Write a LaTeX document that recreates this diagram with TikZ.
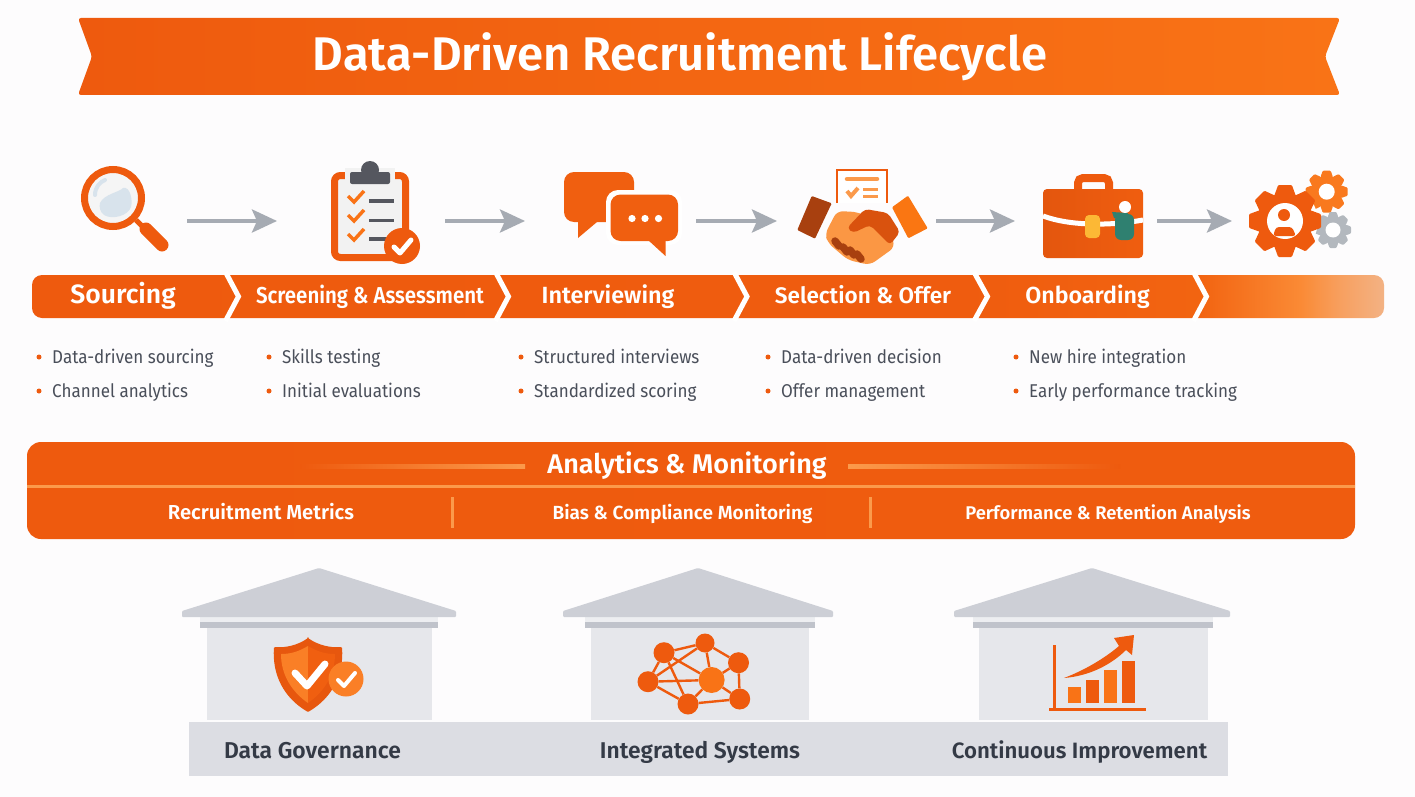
\documentclass[tikz,border=0pt]{standalone}
\usepackage{fontspec}
\setmainfont{Fira Sans}[BoldFont={Fira Sans SemiBold}]
\newfontfamily\itemfont{Fira Sans}[FakeStretch=0.92]
\newfontfamily\condbold{Fira Sans SemiBold}[FakeStretch=0.89]
\usetikzlibrary{arrows.meta}
\definecolor{primary}{HTML}{EE5A0E}
\definecolor{bright}{HTML}{F97316}
\definecolor{soft}{HTML}{FB9A4B}
\definecolor{deep}{HTML}{A8400F}
\definecolor{ink}{HTML}{343A46}
\definecolor{bodytext}{HTML}{4A4F5A}
\definecolor{clipgray}{HTML}{55575F}
\definecolor{lens}{HTML}{D8E3EC}
\definecolor{arrowgray}{HTML}{A6ABB3}
\definecolor{stone}{HTML}{E6E7EB}
\definecolor{stonedark}{HTML}{C0C3CB}
\definecolor{roofgray}{HTML}{CDCFD6}
\definecolor{basegray}{HTML}{DCDDE3}
\definecolor{pagebg}{HTML}{FDFCFD}
\definecolor{teal}{HTML}{2F8070}
\definecolor{fadea}{HTML}{FA8A35}
\definecolor{fadeb}{HTML}{F7A060}
\definecolor{fadec}{HTML}{F3B284}
\newcommand{\fs}[1]{\fontsize{#1}{#1}\selectfont}
% fade at the right end of the chevron band
\pgfdeclarehorizontalshading{bandfade}{100bp}{color(0bp)=(primary); color(25bp)=(primary); color(60bp)=(primary!90!bright); color(68.2bp)=(primary!60!bright); color(71.9bp)=(fadea); color(73.4bp)=(fadeb); color(75bp)=(fadec); color(100bp)=(fadec)}
\pgfdeclarehorizontalshading{ruleleft}{100bp}{color(0bp)=(primary); color(25bp)=(primary); color(75bp)=(soft); color(100bp)=(soft)}
\pgfdeclarehorizontalshading{ruleright}{100bp}{color(0bp)=(soft); color(25bp)=(soft); color(75bp)=(primary); color(100bp)=(primary)}
\newcommand{\gearicon}[5]{% x, y, outer, root, colour
  \foreach \a in {0,45,...,315} {
    \fill[#5, shift={(#1,#2)}, rotate=\a, rounded corners=1pt]
      (-#3*0.30,-#4*0.9) -- (-#3*0.19,-#3) -- (#3*0.19,-#3) -- (#3*0.30,-#4*0.9) -- cycle;
  }
  \fill[#5] (#1,#2) circle[radius=#4];
}
\begin{document}
\begin{tikzpicture}[
    x=1pt, y=-1pt,
    flowarrow/.style={draw=arrowgray, line width=4pt, -{Stealth[length=25pt,width=23pt,inset=5pt]}},
    iconslot/.style={inner sep=0pt, outer sep=0pt, minimum height=10pt},
    bandlabel/.style={text=white, inner sep=0pt, anchor=base},
    panellabel/.style={text=white, inner sep=0pt, anchor=base},
    pillarlabel/.style={text=ink, inner sep=0pt, anchor=base},
    chevron/.style={draw=white, line width=5pt, line join=miter},
    itemdot/.style={circle, fill=primary, inner sep=0pt, minimum size=5pt},
    itemtext/.style={text=bodytext, font=\itemfont\fs{18.5}, anchor=base west, inner sep=0pt},
    netnode/.style={circle, fill=primary, inner sep=0pt, minimum size=21pt},
    netlink/.style={draw=primary, line width=2.4pt},
    checkmark/.style={draw=white, line cap=round, line join=round},
]
\useasboundingbox (0,0) rectangle (1415,797);
\fill[pagebg] (0,0) rectangle (1415,797);

% Title banner
\shade[left color=primary, right color=bright, rounded corners=3pt]
  (78,18) -- (1340,18) -- (1325,56.5) -- (1340,95) -- (78,95) -- (92,56.5) -- cycle;
\node[text=white, font=\bfseries\fs{47.2}, inner sep=0pt, anchor=base] (title) at (680,70.5) {Data-Driven Recruitment Lifecycle};

% Icon slots and arrows
\node[iconslot, minimum width=124pt] (slotsource) at (125,221) {};
\node[iconslot, minimum width=168pt] (slotscreen) at (361,221) {};
\node[iconslot, minimum width=171pt] (slotinterview) at (610.5,221) {};
\node[iconslot, minimum width=159pt] (slotselect) at (856.5,221) {};
\node[iconslot, minimum width=142pt] (slotboard) at (1086,221) {};
\node[iconslot, minimum width=138pt] (slotgears) at (1301,221) {};
\draw[flowarrow] (slotsource) -- (slotscreen);
\draw[flowarrow] (slotscreen) -- (slotinterview);
\draw[flowarrow] (slotinterview) -- (slotselect);
\draw[flowarrow] (slotselect) -- (slotboard);
\draw[flowarrow] (slotboard) -- (slotgears);

% Magnifier
\draw[primary, line width=5pt] (136,220) -- (147,231);
\draw[primary, line width=13pt, line cap=round] (146,229) -- (162,245);
\draw[primary, line width=7pt, fill=white!96!black] (113,198) circle[radius=28.5];
\fill[lens] (100,203) .. controls (104,194) and (120,192) .. (123,188) .. controls (130,186) and (133,200) .. (131,207) .. controls (128,216) and (112,220) .. (104,215) .. controls (100,212) and (99,207) .. (100,203) -- cycle;
\draw[lens, line width=4pt, line cap=round] (95,195) .. controls (95,187) and (100,182) .. (105,180);

% Clipboard
\draw[primary, line width=7pt, fill=white!95!black, rounded corners=6pt] (334.5,175.5) rectangle (405.5,257.5);
\fill[white!95!black] (345,168) rectangle (395,180);
\fill[clipgray, rounded corners=2pt] (350,172) rectangle (390,184);
\fill[clipgray] (370,170) circle[radius=9];
\foreach \y in {200,219,238} {
  \draw[bright, line width=3.5pt] (348,\y-4) -- (354,\y+2) -- (364,\y-9);
}
\foreach \y in {201,220.5,239} {
  \draw[clipgray, line width=3.5pt] (369,\y) -- (394,\y);
}
\fill[primary] (402,246) circle[radius=18];
\draw[checkmark, line width=5pt] (394,247) -- (400,253) -- (411,240);

% Chat bubbles
\fill[primary!80!bright, rounded corners=10pt] (564,172) rectangle (634,222);
\fill[primary!80!bright] (578,215) -- (578,238) -- (597,222) -- cycle;
\fill[white, rounded corners=12pt] (606,190) rectangle (682,245);
\fill[primary!80!bright, rounded corners=10pt] (610.5,194.5) rectangle (678,241);
\fill[primary!80!bright] (648,240) -- (665.5,256) -- (665.5,236) -- cycle;
\foreach \x in {632,645,658.5} {
  \fill[white] (\x,218.5) circle[radius=3.6];
}

% Handshake and offer
\draw[primary, line width=1.5pt, fill=white] (837,203) -- (837,170) -- (887,170) -- (887,203);
\draw[soft, line width=4.5pt, line cap=round] (847,179) -- (877,179);
\draw[soft, line width=2.5pt] (863,189.5) -- (878,189.5) (863,196.5) -- (878,196.5);
\draw[soft, line width=4pt] (847,191) -- (851,196) -- (858,188);
\fill[deep, rounded corners=1pt] (811.7,196) -- (831.7,203.3) -- (815,238.7) -- (797.3,230) -- cycle;
\fill[bright!80!orange, rounded corners=1pt] (908,195.7) -- (927.7,228.3) -- (908.3,238.3) -- (892,207.3) -- cycle;
\fill[soft!90!orange, rounded corners=6pt] (837,211) -- (857,212) -- (888,225) -- (895,247) -- (870,265) -- (848,260) -- (828,243) -- (825,234) -- cycle;
\fill[primary!70!deep, rounded corners=4pt] (847,228) -- (865,209) -- (888,213) -- (900,232) -- (890,245) -- (870,225) -- (853,233) -- cycle;
\foreach \x/\y in {835/241,843/247,850/250,857/254} {
  \draw[deep, line width=7.5pt, line cap=round] (\x,\y) -- (\x+4,\y+5);
}

% Briefcase
\draw[primary, line width=8pt, rounded corners=5pt] (1078,190) -- (1078,178) -- (1109,178) -- (1109,190);
\shade[left color=primary!85!deep, right color=primary!85!bright, rounded corners=4pt] (1043,189) rectangle (1143,258);
\draw[white, line width=5pt] (1043,216) .. controls (1070,226) and (1110,226) .. (1143,220);
\fill[soft!70!yellow, rounded corners=4pt] (1085,215) rectangle (1100,238);
\fill[teal, rounded corners=6pt] (1115,214) rectangle (1134,240);
\fill[teal] (1112,212) -- (1128,213) -- (1126,219) -- (1114,218) -- cycle;
\fill[white] (1125,207) circle[radius=6];

% Gears
\gearicon{1326.7}{191.7}{21}{16}{bright!85!soft}
\fill[white] (1326.7,191.7) circle[radius=8];
\gearicon{1333}{230}{18}{14}{arrowgray!85!white}
\fill[white] (1333,230) circle[radius=7.5];
\fill[white] (1285,221) circle[radius=33];
\gearicon{1285}{221}{36}{28}{primary}
\fill[white] (1285,221) circle[radius=18];
\fill[primary] (1284,215) circle[radius=6];
\fill[primary, rounded corners=3pt] (1273,236) -- (1276,227) -- (1292,227) -- (1296,236) -- cycle;

% Chevron band
\shade[shading=bandfade, rounded corners=10pt] (32,275) rectangle (1384,318);
\draw[chevron] (225.5,272) -- (238.5,296.5) -- (225.5,321);
\draw[chevron] (495.5,272) -- (508.5,296.5) -- (495.5,321);
\draw[chevron] (734,272) -- (747,296.5) -- (734,321);
\draw[chevron] (974,272) -- (987.5,296.5) -- (974,321);
\draw[chevron] (1193.5,272) -- (1206.5,296.5) -- (1193.5,321);
\node[bandlabel, font=\bfseries\fs{26.5}] (sourcing) at (123,303.5) {Sourcing};
\node[bandlabel, font=\condbold\fs{23}] (screening) at (370,303.5) {Screening \& Assessment};
\node[bandlabel, font=\bfseries\fs{23.4}] (interviewing) at (608,303.5) {Interviewing};
\node[bandlabel, font=\bfseries\fs{22.5}] (selection) at (863,303.5) {Selection \& Offer};
\node[bandlabel, font=\bfseries\fs{23.2}] (onboarding) at (1087.5,303.5) {Onboarding};

% Bullet lists
\foreach \x/\y/\name/\txt in {
    52/357/a/Data-driven sourcing, 52/391/b/Channel analytics,
    282/357/c/Skills testing, 282/391/d/Initial evaluations,
    534/357/e/Structured interviews, 534/391/f/Standardized scoring,
    781/357/g/Data-driven decision, 781/391/h/Offer management,
    1029/357/i/New hire integration, 1029/391/j/Early performance tracking} {
  \node[itemtext] (item\name) at (\x,\y+6) {\txt};
  \node[itemdot] (dot\name) at (\x-13,\y) {};
}

% Analytics panel
\shade[left color=primary, right color=primary!90!bright, rounded corners=14pt] (27,442) rectangle (1355,539);
\shade[shading=ruleleft] (300,464) rectangle (525,468);
\shade[shading=ruleright] (848,464) rectangle (1120,468);
\fill[soft] (27,484.5) rectangle (1355,487.5);
\node[text=white, font=\bfseries\fs{27}, inner sep=0pt, anchor=base] (analytics) at (687,473.5) {Analytics \& Monitoring};
\node[panellabel, font=\bfseries\fs{20.2}] (metrics) at (261,519) {Recruitment Metrics};
\node[panellabel, font=\bfseries\fs{19}] (bias) at (682.5,519) {Bias \& Compliance Monitoring};
\node[panellabel, font=\bfseries\fs{18.4}] (retention) at (1108,519) {Performance \& Retention Analysis};
\fill[soft] (451,497) rectangle (453.5,528);
\fill[soft] (869,497) rectangle (871.5,528);

% Pillars
\foreach \rl/\ap/\rr/\el/\er/\cl/\cr in {
    182/319/456/200/438/207/432,
    563/698/833/585/815/591/809,
    954/1092/1230/973/1213/979/1208} {
  \fill[stone] (\cl,628) rectangle (\cr,720);
  \fill[stonedark] (\el,622) rectangle (\er,628);
  \fill[stone!70!white] (\el,613) rectangle (\er,622);
  \fill[roofgray, rounded corners=1pt] (\rl,611) -- (\ap,568) -- (\rr,611) -- (\rr,617) -- (\rl,617) -- cycle;
}
\fill[basegray] (189,722) rectangle (1228,776);
\node[pillarlabel, font=\bfseries\fs{22.9}] (governance) at (312.5,758) {Data Governance};
\node[pillarlabel, font=\bfseries\fs{22.8}] (integrated) at (700,758) {Integrated Systems};
\node[pillarlabel, font=\bfseries\fs{22.2}] (improvement) at (1079.5,758) {Continuous Improvement};

% Shield
\fill[primary!90!deep, rounded corners=1pt] (308,638) .. controls (318,645) and (330,648) .. (342,647) .. controls (344,675) and (332,698) .. (308,712) .. controls (284,698) and (272,675) .. (274,647) .. controls (286,648) and (298,645) .. (308,638) -- cycle;
\fill[bright!70!soft] (308,646) .. controls (298,652) and (290,654) .. (281,654) .. controls (281,675) and (292,692) .. (308,703) -- cycle;
\fill[primary!80!bright] (308,646) .. controls (318,652) and (326,654) .. (335,654) .. controls (335,675) and (324,692) .. (308,703) -- cycle;
\draw[checkmark, line width=7pt] (295,673) -- (307,686) -- (325,664);
\fill[bright!70!soft] (346,679) circle[radius=17.5];
\draw[checkmark, line width=4pt] (338,680) -- (344,686) -- (355,673);

% Network
\node[netnode] (neta) at (664,652.7) {};
\node[netnode, minimum size=19pt] (netb) at (705,643) {};
\node[netnode] (netc) at (738.5,662.7) {};
\node[netnode, minimum size=26pt, fill=bright] (netd) at (711.6,680) {};
\node[netnode] (nete) at (648,681.7) {};
\node[netnode] (netf) at (688,704) {};
\node[netnode] (netg) at (739.7,699) {};
\draw[netlink] (neta) -- (netb) (netb) -- (netc) (netb) -- (netd) (neta) -- (netd);
\draw[netlink] (netc) -- (netd) (netc) -- (netg) (netd) -- (netg) (netd) -- (nete);
\draw[netlink] (netd) -- (netf) (nete) -- (neta) (nete) -- (netf) (neta) -- (netf);
\draw[netlink] (nete) -- (netb) (netf) -- (netg);

% Chart
\fill[primary] (1052.5,645) rectangle (1055.5,709);
\fill[primary] (1049,707.5) rectangle (1146,711);
\fill[bright] (1068,686.7) rectangle (1081,703);
\fill[primary] (1086,680) rectangle (1099,703);
\fill[bright] (1104,670) rectangle (1117,703);
\fill[primary] (1122,661) rectangle (1135,703);
\fill[primary] (1064,678) .. controls (1085,670) and (1105,658) .. (1119,646) -- (1114,638) -- (1134,635) -- (1132,655) -- (1126,650) .. controls (1112,664) and (1090,676) .. (1064,678) -- cycle;

\end{tikzpicture}
\end{document}
